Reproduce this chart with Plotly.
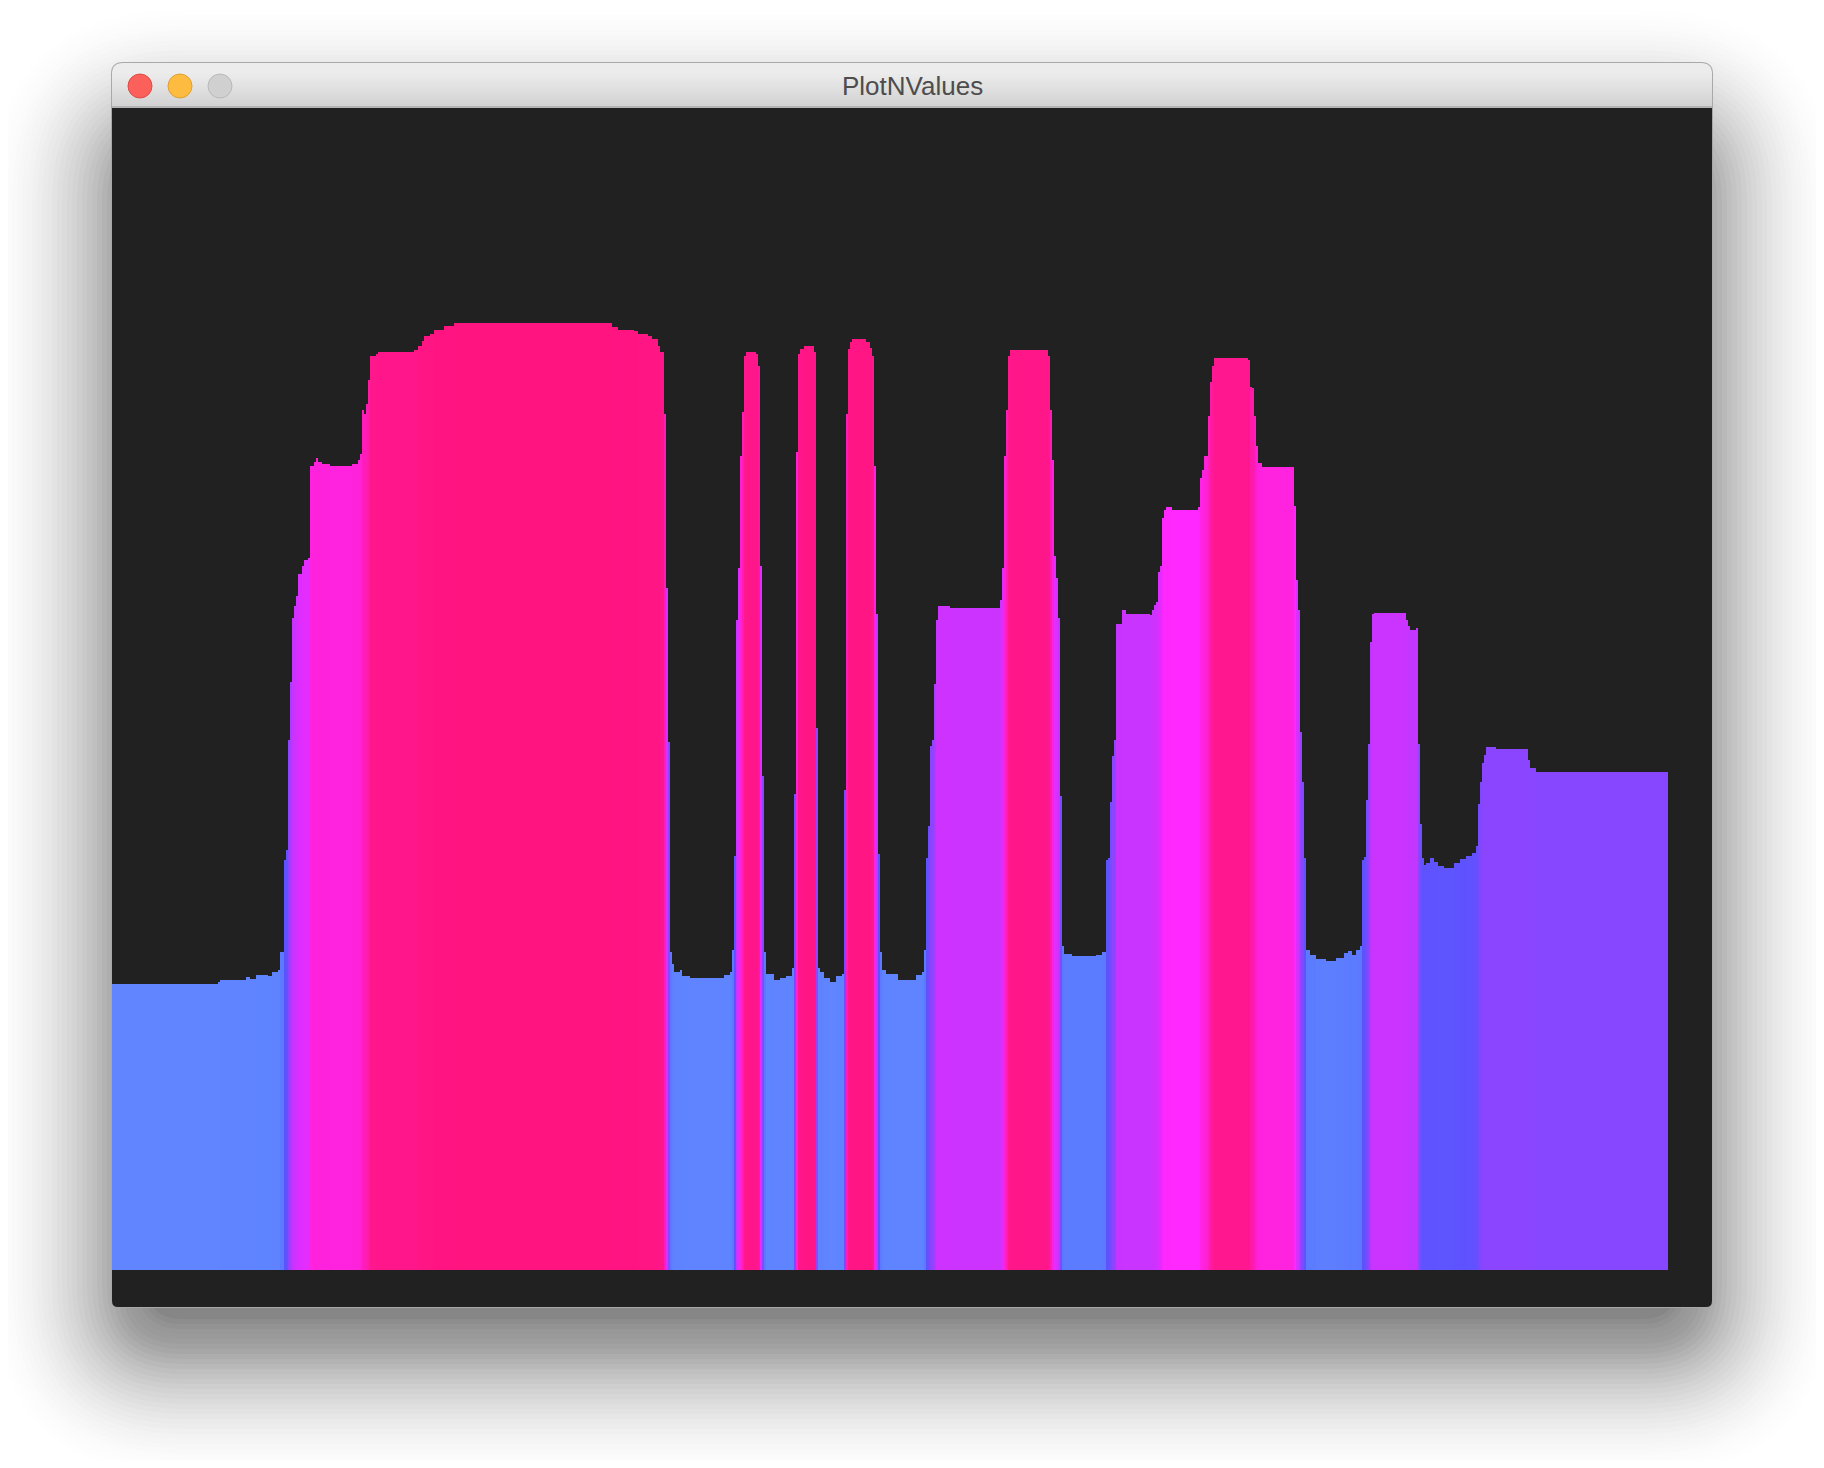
import plotly.graph_objects as go

PAGE_W, PAGE_H = 1824, 1468
OFF = 8                      # default body margin of the html page
W, H = PAGE_W - 2 * OFF, PAGE_H - 2 * OFF

# ---- data: runs of equal value (column index where each run starts, value in points) ----
run_start = [
    0, 53, 54, 67, 69, 72, 78, 80, 83, 84, 86, 87, 88, 89, 90, 91, 92, 93, 95, 96,
    98, 99, 101, 102, 103, 105, 109, 120, 123, 124, 125, 126, 127, 128, 129, 132, 133, 151, 153, 155,
    156, 159, 161, 166, 171, 250, 253, 261, 263, 268, 270, 273, 274, 276, 277, 278, 279, 280, 281, 284,
    285, 289, 306, 309, 310, 311, 312, 313, 314, 315, 316, 317, 322, 323, 324, 325, 326, 327, 331, 334,
    337, 340, 341, 342, 343, 344, 346, 351, 352, 353, 354, 356, 359, 362, 365, 366, 367, 368, 369, 370,
    377, 379, 380, 381, 382, 383, 384, 385, 387, 393, 402, 405, 406, 407, 408, 409, 410, 411, 412, 413,
    419, 444, 445, 446, 447, 448, 449, 468, 469, 470, 471, 472, 473, 474, 475, 476, 480, 492, 495, 497,
    498, 499, 500, 501, 502, 505, 507, 519, 520, 521, 522, 523, 524, 525, 526, 527, 530, 543, 544, 545,
    546, 548, 549, 550, 551, 568, 569, 570, 571, 572, 573, 575, 591, 592, 593, 594, 595, 596, 597, 599,
    602, 607, 612, 616, 618, 620, 622, 624, 625, 626, 627, 628, 629, 630, 631, 647, 648, 649, 652, 653,
    654, 655, 656, 657, 659, 661, 663, 666, 671, 674, 677, 680, 682, 683, 684, 685, 686, 687, 692, 708,
    709, 712,
]
run_value = [
    143, 144, 145, 146.5, 145.5, 147.5, 147, 149, 150, 159, 205, 210, 265, 294, 326, 332, 337, 348, 352, 355,
    356, 402, 404, 406, 404, 403, 402, 403, 405, 408, 430, 428, 433, 445, 457, 458, 459, 460, 462, 464.5,
    467, 468, 470, 472, 473.5, 471.5, 470, 469.5, 468, 467, 465.5, 462, 459, 428, 341, 264, 159, 153, 149, 150,
    147, 146, 147.5, 149, 160, 207, 325, 351, 407, 429, 457, 459, 458, 452, 352, 247, 159, 148, 145, 146,
    147, 151, 238, 409, 458, 460.5, 462, 459, 271, 151, 149, 146, 144, 147, 148, 240, 428, 460.5, 464, 465.5,
    464, 461, 457, 402, 328, 208, 159, 150, 148, 145, 147.5, 149, 160, 206, 222, 262, 265, 293, 325, 332,
    331, 335, 351, 407, 430, 457, 460, 457, 430, 405, 357, 346, 326, 237, 162, 158, 157, 157.5, 159, 205,
    206, 234, 257, 265, 323, 330, 328, 327.5, 330, 332.5, 334, 349, 352, 376, 380, 381.7, 380, 381.7, 396, 400,
    407, 427, 444, 452, 456, 455, 441.7, 441, 427, 412, 403.7, 401.7, 382, 345, 330, 269, 244, 206, 160, 157.5,
    155.3, 154.7, 156, 158.3, 159.7, 157.5, 160, 162, 205, 206.7, 235, 263, 314, 328, 328.7, 325, 322, 320, 320.8, 263,
    223, 206, 202.5, 203.3, 206, 204, 202, 201, 203.3, 205.3, 207, 208.3, 212, 233, 244, 253.3, 257.5, 261.7, 260.3, 255,
    250.8, 249.2,
]
n_columns = 778

# colour of a column follows its value
color_values = [143, 150, 158, 205, 237, 250, 262, 294, 330, 355, 380, 403, 430, 445, 456, 462, 474]
color_hex = ['#6085ff', '#5f83ff', '#5c7bff', '#5e52ff', '#7a4aff', '#8846ff', '#8c45ff', '#aa3eff',
             '#cc33ff', '#e42cff', '#ff28ff', '#ff22dd', '#ff1cb8', '#ff1aa4', '#ff1790', '#ff1585', '#ff1480']

window_title = 'PlotNValues'

# ---- expand runs into one value per column ----
col_x, col_y = [], []
bounds = run_start + [n_columns]
for i, v in enumerate(run_value):
    for c in range(bounds[i], bounds[i + 1]):
        col_x.append(c + 0.5)
        col_y.append(v)

cmin, cmax = color_values[0], color_values[-1]
colorscale = [[(v - cmin) / (cmax - cmin), c] for v, c in zip(color_values, color_hex)]

# ---- geometry helpers (page pixels -> paper) ----
def X(px):
    return (px - OFF) / W

def Y(py):
    return 1 - (py - OFF) / H

def rrect(x0, y0, x1, y1, rt, rb=None):
    if rb is None:
        rb = rt
    p = []
    p.append(f"M {X(x0 + rt)} {Y(y0)}")
    p.append(f"L {X(x1 - rt)} {Y(y0)}")
    p.append(f"Q {X(x1)} {Y(y0)} {X(x1)} {Y(y0 + rt)}")
    p.append(f"L {X(x1)} {Y(y1 - rb)}")
    p.append(f"Q {X(x1)} {Y(y1)} {X(x1 - rb)} {Y(y1)}")
    p.append(f"L {X(x0 + rb)} {Y(y1)}")
    p.append(f"Q {X(x0)} {Y(y1)} {X(x0)} {Y(y1 - rb)}")
    p.append(f"L {X(x0)} {Y(y0 + rt)}")
    p.append(f"Q {X(x0)} {Y(y0)} {X(x0 + rt)} {Y(y0)}")
    p.append("Z")
    return " ".join(p)

shapes = []

# window shadow (stack of faint, growing rounded rectangles)
sx0, sy0, sx1, sy1 = 152, 170, 1672, 1314
spread = 170
steps = 34
def dark(d):
    return 0.55 * (1 - d / spread) ** 2
prev = 0
for k in range(1, steps + 1):
    e = spread * k / steps
    a = dark(prev) - dark(e)
    prev = e
    shapes.append(dict(type='path', xref='paper', yref='paper', layer='below',
                       path=rrect(sx0 - e, sy0 - e, sx1 + e, sy1 + e, 30 + e),
                       fillcolor='black', opacity=a, line=dict(width=0)))

# window frame
shapes.append(dict(type='path', xref='paper', yref='paper', layer='below',
                   path=rrect(111, 62, 1713, 1308, 12, 7),
                   fillcolor='#a8a8a8', line=dict(width=0)))
# dark content area
shapes.append(dict(type='path', xref='paper', yref='paper', layer='below',
                   path=rrect(112, 90, 1712, 1307, 6, 6),
                   fillcolor='#212121', line=dict(width=0)))
# title bar
shapes.append(dict(type='path', xref='paper', yref='paper', layer='below',
                   path=rrect(112, 63, 1712, 107, 11, 0.01),
                   fillcolor='#ececec', line=dict(width=0)))
top_rgb, bot_rgb = (236, 236, 236), (211, 211, 211)
ys = list(range(72, 106, 2))
for i, yy in enumerate(ys):
    t = i / (len(ys) - 1)
    c = tuple(round(top_rgb[j] + (bot_rgb[j] - top_rgb[j]) * t) for j in range(3))
    shapes.append(dict(type='rect', xref='paper', yref='paper', layer='below',
                       x0=X(112), x1=X(1712), y0=Y(yy), y1=Y(yy + 2),
                       fillcolor='rgb(%d,%d,%d)' % c, line=dict(width=0)))
shapes.append(dict(type='rect', xref='paper', yref='paper', layer='below',
                   x0=X(112), x1=X(1712), y0=Y(106), y1=Y(108),
                   fillcolor='#b4b4b4', line=dict(width=0)))

# traffic lights
for cx, fill, edge in [(140, '#fc605b', '#de4a45'), (180, '#fdbc40', '#dea034'), (220, '#d0d0d0', '#b9b9b9')]:
    r = 12
    shapes.append(dict(type='circle', xref='paper', yref='paper', layer='below',
                       x0=X(cx - r), x1=X(cx + r), y0=Y(86 + r), y1=Y(86 - r),
                       fillcolor=fill, line=dict(color=edge, width=1)))

fig = go.Figure()
fig.add_trace(go.Bar(
    x=col_x, y=col_y, width=1,
    marker=dict(color=col_y, colorscale=colorscale, cmin=cmin, cmax=cmax,
                line=dict(width=0)),
    hoverinfo='skip', showlegend=False,
))

fig.update_layout(
    width=W, height=H,
    margin=dict(l=0, r=0, t=0, b=0),
    paper_bgcolor='white', plot_bgcolor='rgba(0,0,0,0)',
    bargap=0, showlegend=False,
    shapes=shapes,
    xaxis=dict(domain=[X(112), X(1712)], range=[0, 800], visible=False, fixedrange=True),
    yaxis=dict(domain=[Y(1307), Y(108)], range=[-18.5, 581], visible=False, fixedrange=True),
    annotations=[dict(text=window_title, xref='paper', yref='paper', x=X(912), y=Y(86),
                      xanchor='center', yanchor='middle', showarrow=False,
                      font=dict(family='Liberation Sans, Arial, sans-serif', size=26, color='#4d4d4d'))],
)

fig.write_html('out.html', config={'displayModeBar': False, 'staticPlot': True})
